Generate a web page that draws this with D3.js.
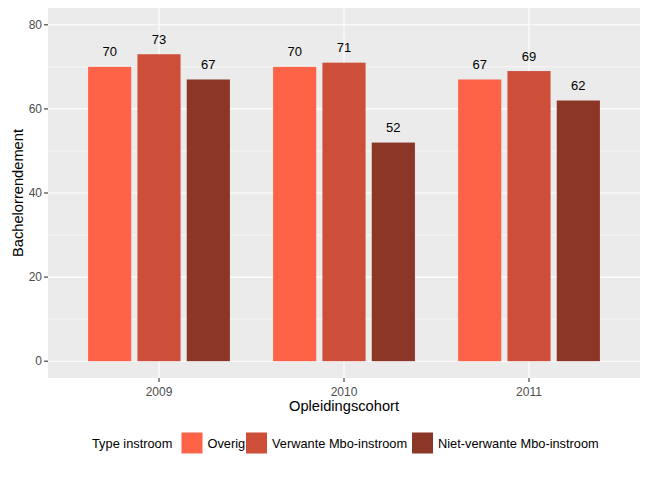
<!DOCTYPE html>
<html><head><meta charset="utf-8">
<script src="https://cdn.jsdelivr.net/npm/d3@7"></script>
<style>body{margin:0;background:#fff}svg{display:block;font-family:"Liberation Sans",Arial,sans-serif}</style>
</head><body><svg id="c" width="648" height="479"></svg>
<script>
const cohorts = ["2009", "2010", "2011"];
const types = ["Overig", "Verwante Mbo-instroom", "Niet-verwante Mbo-instroom"];
const overig = [70, 70, 67];
const verwante = [73, 71, 69];
const nietVerwante = [67, 52, 62];
const colors = ["#FF6347", "#CD4F39", "#8B3626"];
const yTicks = [0, 20, 40, 60, 80];
const legendTitle = "Type instroom";
const xTitle = "Opleidingscohort";
const yTitle = "Bachelorrendement";

const series = [overig, verwante, nietVerwante];
const svg = d3.select("#c");
const L = 48, R = 640, T = 8, B = 378;

const x = d3.scaleLinear().domain([0.4, cohorts.length + 0.6]).range([L, R]);
const y = d3.scaleLinear().domain([-4, 84]).range([B, T]);
const dodge = 0.8, bw = 0.7 / types.length;

svg.append("rect").attr("x", L).attr("y", T).attr("width", R - L).attr("height", B - T).attr("fill", "#EBEBEB");
const minor = [10, 30, 50, 70];
svg.selectAll(".mg").data(minor).enter().append("line")
  .attr("x1", L).attr("x2", R).attr("y1", d => y(d)).attr("y2", d => y(d))
  .attr("stroke", "#fff").attr("stroke-width", 0.55);
svg.selectAll(".yg").data(yTicks).enter().append("line")
  .attr("x1", L).attr("x2", R).attr("y1", d => y(d)).attr("y2", d => y(d))
  .attr("stroke", "#fff").attr("stroke-width", 1.1);
svg.selectAll(".xg").data(cohorts).enter().append("line")
  .attr("y1", T).attr("y2", B).attr("x1", (d, i) => x(i + 1)).attr("x2", (d, i) => x(i + 1))
  .attr("stroke", "#fff").attr("stroke-width", 1.1);

const bars = [];
series.forEach((s, j) => s.forEach((v, i) => bars.push({i, j, v})));
const cx = d => x(d.i + 1 + (d.j - (types.length - 1) / 2) * dodge / types.length);
svg.selectAll(".bar").data(bars).enter().append("rect")
  .attr("x", d => cx(d) - (x(bw) - x(0)) / 2)
  .attr("width", x(bw) - x(0))
  .attr("y", d => y(d.v)).attr("height", d => y(0) - y(d.v))
  .attr("fill", d => colors[d.j]);
svg.selectAll(".lab").data(bars).enter().append("text")
  .attr("x", cx).attr("y", d => y(d.v) - 10.5)
  .attr("text-anchor", "middle").attr("font-size", 13).attr("fill", "#000")
  .text(d => d.v);

const ya = svg.append("g");
yTicks.forEach(t => {
  ya.append("line").attr("x1", L - 4).attr("x2", L).attr("y1", y(t)).attr("y2", y(t)).attr("stroke", "#333").attr("stroke-width", 1.1);
  ya.append("text").attr("x", L - 6).attr("y", y(t)).attr("dy", "0.35em").attr("text-anchor", "end")
    .attr("font-size", 12).attr("fill", "#4D4D4D").text(t);
});
cohorts.forEach((c, i) => {
  svg.append("line").attr("x1", x(i + 1)).attr("x2", x(i + 1)).attr("y1", B).attr("y2", B + 4).attr("stroke", "#333").attr("stroke-width", 1.1);
  svg.append("text").attr("x", x(i + 1)).attr("y", 395.5).attr("text-anchor", "middle")
    .attr("font-size", 12).attr("fill", "#4D4D4D").text(c);
});
svg.append("text").attr("x", (L + R) / 2).attr("y", 410.5).attr("text-anchor", "middle")
  .attr("font-size", 14.67).attr("fill", "#000").text(xTitle);
svg.append("text").attr("transform", `translate(23,${(T + B) / 2}) rotate(-90)`).attr("text-anchor", "middle")
  .attr("font-size", 14.67).attr("fill", "#000").text(yTitle);

const lg = svg.append("g");
lg.append("text").attr("x", 92).attr("y", 447.5).attr("font-size", 12.8).attr("fill", "#000").text(legendTitle);
const keyX = [181.5, 246, 412];
types.forEach((t, j) => {
  lg.append("rect").attr("x", keyX[j]).attr("y", 432.5).attr("width", 21).attr("height", 21).attr("fill", colors[j]);
  lg.append("text").attr("x", keyX[j] + 26).attr("y", 447.5).attr("font-size", 12.8).attr("fill", "#000").text(t);
});
</script></body></html>
